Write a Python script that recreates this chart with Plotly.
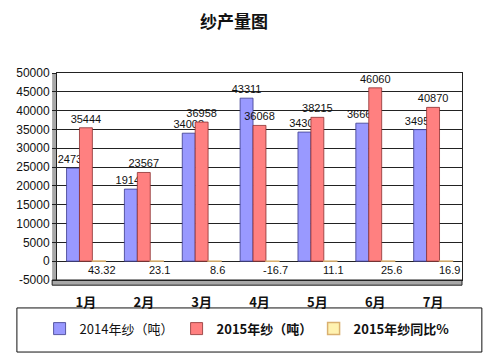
import plotly.graph_objects as go

months = ["1月", "2月", "3月", "4月", "5月", "6月", "7月"]
yarn_2014 = [24730, 19147, 34008, 43311, 34306, 36667, 34956]
yarn_2015 = [35444, 23567, 36958, 36068, 38215, 46060, 40870]
yoy_2015 = [43.32, 23.1, 8.6, -16.7, 11.1, 25.6, 16.9]
y_ticks = list(range(-5000, 50001, 5000))

CJK = "Noto Sans CJK SC"
NUM = "Liberation Sans"

fig = go.Figure()
fig.add_trace(go.Bar(
    x=months, y=yarn_2014, name="2014年纱（吨）",
    marker=dict(color="#9999FF", line=dict(color="#3A3A8C", width=0.8)),
    text=[str(v) for v in yarn_2014], textposition="outside", constraintext="none",
    textfont=dict(family=NUM, size=11, color="#111"), cliponaxis=False,
))
fig.add_trace(go.Bar(
    x=months, y=yarn_2015, name="<b>2015年纱（吨）</b>",
    marker=dict(color="#FF8080", line=dict(color="#8C3030", width=0.8)),
    text=[str(v) for v in yarn_2015], textposition="outside", constraintext="none",
    textfont=dict(family=NUM, size=11, color="#111"), cliponaxis=False,
))
fig.add_trace(go.Bar(
    x=months, y=yoy_2015, name="<b>2015年纱同比%</b>",
    marker=dict(color="#FFF2B0", line=dict(color="#D9B070", width=1.5)),
))

# yoy labels below the zero line, aligned with the third bar in each group
for m, v in zip(months, yoy_2015):
    fig.add_annotation(x=m, y=0, text=f"{v:g}", showarrow=False,
                       xshift=16, yshift=-9,
                       font=dict(family=NUM, size=11, color="#111"))

# 3D-ish walls: left wall and floor
fig.add_shape(type="rect", xref="paper", yref="paper", x0=-0.012, x1=0.0,
              y0=-0.01, y1=1.0, fillcolor="#A8A8A8", line=dict(width=0), layer="below")
fig.add_shape(type="rect", xref="paper", yref="paper", x0=-0.012, x1=1.0,
              y0=-0.025, y1=0.0, fillcolor="#A8A8A8", line=dict(color="#222", width=1), layer="below")
# legend frame
fig.add_shape(type="rect", xref="paper", yref="paper", x0=-0.099, x1=1.049,
              y0=-0.348, y1=-0.135, line=dict(color="#111", width=1), fillcolor="rgba(0,0,0,0)")

# page body has an 8px margin, so the figure is sized/offset to compensate
fig.update_layout(
    width=485, height=349,
    margin=dict(l=49, r=31, t=65, b=77, autoexpand=False),
    paper_bgcolor="white", plot_bgcolor="white",
    barmode="group", bargap=0.33, bargroupgap=0.0,
    title=dict(text="<b>纱产量图</b>", x=0.466, xref="container", xanchor="center",
               y=0.96, yanchor="middle", yref="container",
               font=dict(family=CJK, size=17, color="#111")),
    showlegend=True,
    legend=dict(orientation="h", x=-0.043, xanchor="left", y=-0.235, yanchor="middle",
                font=dict(family=CJK, size=13, color="#111"),
                entrywidth=92, entrywidthmode="pixels", itemwidth=30,
                bgcolor="rgba(0,0,0,0)", borderwidth=0),
    font=dict(family=CJK, color="#111"),
)
fig.update_xaxes(
    tickfont=dict(family=CJK, size=13, color="#111"),
    tickprefix="<b>", ticksuffix="</b>",
    showline=True, linecolor="#222", mirror=True,
    ticks="outside", ticklen=10, tickcolor="rgba(0,0,0,0)",
)
fig.update_yaxes(
    range=[-5000, 50000], tickvals=y_ticks, ticktext=[str(t) for t in y_ticks],
    tickfont=dict(family=NUM, size=12, color="#111"),
    showgrid=True, gridcolor="#222", gridwidth=1,
    zeroline=True, zerolinecolor="#222", zerolinewidth=1,
    showline=True, linecolor="#222", mirror=True,
    ticks="outside", ticklen=4, tickcolor="#222",
)

fig.write_html("out.html")
